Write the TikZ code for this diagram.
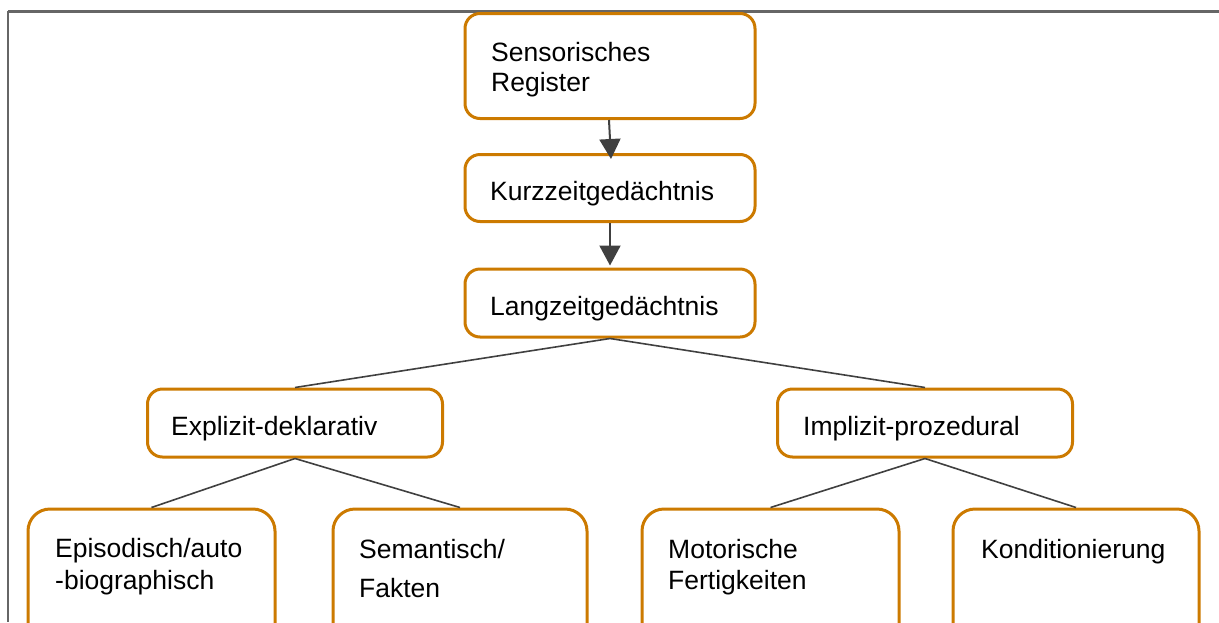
\documentclass[tikz,border=0pt]{standalone}
\usepackage{fontspec}
\setmainfont{Liberation Sans}
\usetikzlibrary{arrows.meta}
\definecolor{boxorange}{RGB}{204,122,0}
\definecolor{linegray}{RGB}{64,64,64}
\definecolor{framegray}{RGB}{102,102,102}
\tikzset{
  box/.style={draw=boxorange, line width=3pt, rounded corners=15pt, fill=white, inner sep=0pt},
  lowbox/.style={box, rounded corners=22pt},
  txt/.style={anchor=base west, inner sep=0pt, font=\fontsize{26.5}{30}\selectfont, text=black},
  flow/.style={draw=linegray, line width=2pt, -{Triangle[length=20pt,width=21pt]}},
  link/.style={draw=linegray, line width=1.6pt},
  frame/.style={draw=framegray}
}
\begin{document}
\begin{tikzpicture}[x=1pt,y=-1pt]
\useasboundingbox (0,0) rectangle (1219,622);
\clip (0,0) rectangle (1219,622);
% frame
\draw[frame, line width=3pt] (8,11) -- (1219,11);
\draw[frame, line width=2.5pt] (8,11) -- (8,622);
% boxes
\node[box, minimum width=290pt, minimum height=105pt] (sr) at (610,66) {};
\node[box, minimum width=290pt, minimum height=67pt] (kz) at (610,188) {};
\node[box, minimum width=290pt, minimum height=68pt] (lz) at (610,303) {};
\node[box, minimum width=295pt, minimum height=68pt] (ex) at (295,423) {};
\node[box, minimum width=295pt, minimum height=68pt] (im) at (925,423) {};
\node[lowbox, minimum width=247pt, minimum height=150pt] (ep) at (151.5,584) {};
\node[lowbox, minimum width=254pt, minimum height=150pt] (se) at (460,584) {};
\node[lowbox, minimum width=257pt, minimum height=150pt] (mo) at (770.5,584) {};
\node[lowbox, minimum width=246pt, minimum height=150pt] (ko) at (1076,584) {};
% texts
\node[txt] (sr1) at (491,61) {Sensorisches};
\node[txt] (sr2) at (491,91) {Register};
\node[txt] (kz1) at (490,200) {Kurzzeitgedächtnis};
\node[txt] (lz1) at (490,315) {Langzeitgedächtnis};
\node[txt] (ex1) at (171,435) {Explizit-deklarativ};
\node[txt] (im1) at (803,435) {Implizit-prozedural};
\node[txt] (ep1) at (55,557) {Episodisch/auto};
\node[txt] (ep2) at (55,589) {-biographisch};
\node[txt] (se1) at (359,558) {Semantisch/};
\node[txt] (se2) at (359,597) {Fakten};
\node[txt] (mo1) at (668,558) {Motorische};
\node[txt] (mo2) at (668,589) {Fertigkeiten};
\node[txt] (ko1) at (981,558) {Konditionierung};
% connectors
\draw[flow] ([xshift=-1pt]sr.south) -- ([xshift=1pt,yshift=-6pt]kz.north);
\draw[flow] (kz.south) -- ([yshift=2pt]lz.north);
\draw[link] (lz.south) -- (ex.north);
\draw[link] (lz.south) -- (im.north);
\draw[link] (ex.south) -- (ep.north);
\draw[link] (ex.south) -- (se.north);
\draw[link] (im.south) -- (mo.north);
\draw[link] (im.south) -- (ko.north);
\end{tikzpicture}
\end{document}
